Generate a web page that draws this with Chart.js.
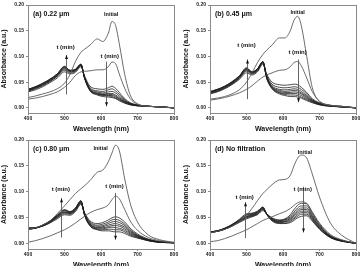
<!DOCTYPE html>
<html>
<head>
<meta charset="utf-8">
<script src="https://cdn.jsdelivr.net/npm/chart.js@4/dist/chart.umd.min.js"></script>
<style>
  html, body { margin: 0; padding: 0; background: #fff; }
  #wrap { position: relative; width: 364px; height: 266px; overflow: hidden; }
  .panel { position: absolute; width: 182px; }
</style>
</head>
<body>
<div id="wrap">
  <div class="panel" style="left:0;top:0"><canvas id="ca" width="182" height="133"></canvas></div>
  <div class="panel" style="left:182px;top:0"><canvas id="cb" width="182" height="133"></canvas></div>
  <div class="panel" style="left:0;top:133px"><canvas id="cc" width="182" height="140"></canvas></div>
  <div class="panel" style="left:182px;top:133px"><canvas id="cd" width="182" height="140"></canvas></div>
</div>
<script>
// wavelength (nm)
const wavelengths = [400,420,440,460,480,500,515,530,545,555,570,590,605,620,630,640,650,665,680,700,730,760,800];
const xTicks = [400, 500, 600, 700, 800];
const yTicks = [0, 0.05, 0.10, 0.15, 0.20];

// (a) 0.22 um
const aInitial = [0.020,0.023,0.027,0.031,0.037,0.048,0.065,0.090,0.108,0.114,0.122,0.134,0.129,0.145,0.168,0.160,0.125,0.065,0.025,0.008,0.003,0.002,0.000];
const aT1 = [0.017,0.019,0.022,0.026,0.031,0.040,0.050,0.063,0.070,0.071,0.072,0.074,0.074,0.080,0.089,0.086,0.066,0.038,0.018,0.007,0.003,0.002,0.000];
const aT2 = [0.031,0.035,0.041,0.049,0.058,0.070,0.066,0.069,0.080,0.062,0.042,0.037,0.036,0.039,0.042,0.038,0.030,0.018,0.010,0.006,0.003,0.002,0.000];
const aT3 = [0.032,0.037,0.043,0.051,0.061,0.073,0.068,0.071,0.082,0.060,0.039,0.033,0.032,0.035,0.037,0.033,0.026,0.016,0.009,0.005,0.003,0.002,0.000];
const aT4 = [0.033,0.038,0.044,0.052,0.062,0.075,0.070,0.072,0.083,0.059,0.037,0.031,0.029,0.031,0.032,0.029,0.023,0.014,0.008,0.005,0.003,0.002,0.000];
const aT5 = [0.034,0.039,0.045,0.053,0.063,0.077,0.071,0.073,0.084,0.059,0.036,0.029,0.027,0.028,0.028,0.025,0.020,0.013,0.008,0.005,0.003,0.002,0.000];
const aT6 = [0.035,0.040,0.046,0.054,0.064,0.078,0.072,0.074,0.084,0.058,0.035,0.028,0.026,0.026,0.026,0.023,0.018,0.012,0.007,0.005,0.003,0.002,0.000];
const aT7 = [0.035,0.040,0.047,0.055,0.065,0.079,0.072,0.074,0.084,0.058,0.034,0.027,0.025,0.024,0.024,0.021,0.017,0.011,0.007,0.004,0.003,0.002,0.000];
const aT8 = [0.036,0.041,0.047,0.055,0.066,0.080,0.073,0.075,0.085,0.058,0.034,0.026,0.024,0.023,0.022,0.019,0.015,0.010,0.006,0.004,0.003,0.002,0.000];
const aT9 = [0.036,0.041,0.048,0.056,0.066,0.081,0.073,0.075,0.085,0.057,0.033,0.025,0.022,0.021,0.020,0.018,0.014,0.009,0.006,0.004,0.003,0.002,0.000];

// (b) 0.45 um
const bInitial = [0.017,0.019,0.022,0.027,0.035,0.050,0.068,0.088,0.104,0.112,0.122,0.136,0.136,0.150,0.170,0.178,0.160,0.100,0.040,0.012,0.005,0.003,0.000];
const bT1 = [0.015,0.017,0.020,0.024,0.029,0.036,0.043,0.052,0.060,0.064,0.068,0.073,0.074,0.080,0.088,0.090,0.082,0.058,0.032,0.013,0.005,0.003,0.000];
const bT2 = [0.027,0.031,0.037,0.045,0.055,0.068,0.064,0.070,0.085,0.066,0.050,0.045,0.044,0.045,0.046,0.045,0.040,0.030,0.018,0.010,0.005,0.003,0.000];
const bT3 = [0.028,0.032,0.038,0.046,0.057,0.071,0.066,0.072,0.087,0.064,0.046,0.040,0.039,0.040,0.041,0.040,0.036,0.027,0.016,0.009,0.004,0.003,0.000];
const bT4 = [0.029,0.033,0.039,0.047,0.058,0.073,0.067,0.073,0.088,0.062,0.043,0.036,0.035,0.036,0.037,0.036,0.032,0.024,0.015,0.008,0.004,0.002,0.000];
const bT5 = [0.030,0.034,0.040,0.048,0.059,0.074,0.068,0.074,0.089,0.061,0.041,0.034,0.032,0.033,0.034,0.033,0.029,0.022,0.014,0.008,0.004,0.002,0.000];
const bT6 = [0.030,0.035,0.041,0.049,0.060,0.075,0.069,0.075,0.089,0.060,0.040,0.032,0.030,0.030,0.031,0.030,0.027,0.020,0.013,0.007,0.004,0.002,0.000];
const bT7 = [0.031,0.035,0.041,0.050,0.061,0.076,0.069,0.075,0.090,0.059,0.039,0.030,0.028,0.028,0.028,0.027,0.024,0.018,0.012,0.007,0.004,0.002,0.000];
const bT8 = [0.031,0.036,0.042,0.050,0.061,0.077,0.070,0.076,0.090,0.059,0.038,0.029,0.026,0.025,0.025,0.024,0.021,0.016,0.011,0.006,0.003,0.002,0.000];
const bT9 = [0.032,0.036,0.042,0.051,0.062,0.078,0.070,0.076,0.090,0.058,0.037,0.027,0.024,0.022,0.022,0.021,0.019,0.014,0.010,0.006,0.003,0.002,0.000];

// (c) 0.80 um
const cInitial = [0.028,0.031,0.036,0.044,0.058,0.073,0.085,0.097,0.106,0.112,0.122,0.138,0.142,0.158,0.175,0.190,0.180,0.125,0.078,0.042,0.017,0.008,0.003];
const cT1 = [0.003,0.006,0.010,0.015,0.021,0.027,0.033,0.040,0.048,0.053,0.060,0.066,0.069,0.075,0.085,0.092,0.087,0.066,0.044,0.026,0.012,0.006,0.002];
const cT2 = [0.031,0.031,0.034,0.040,0.048,0.056,0.055,0.062,0.076,0.060,0.044,0.039,0.041,0.046,0.050,0.052,0.050,0.042,0.030,0.019,0.009,0.004,0.002];
const cT3 = [0.030,0.031,0.034,0.041,0.050,0.058,0.057,0.064,0.078,0.059,0.042,0.036,0.038,0.042,0.046,0.047,0.045,0.038,0.027,0.017,0.008,0.004,0.002];
const cT4 = [0.030,0.031,0.035,0.042,0.051,0.060,0.058,0.065,0.079,0.058,0.040,0.034,0.035,0.039,0.042,0.043,0.041,0.035,0.025,0.016,0.008,0.004,0.002];
const cT5 = [0.029,0.030,0.035,0.042,0.052,0.061,0.059,0.066,0.080,0.057,0.038,0.032,0.033,0.036,0.038,0.039,0.037,0.032,0.023,0.015,0.007,0.004,0.002];
const cT6 = [0.029,0.030,0.035,0.043,0.053,0.062,0.060,0.067,0.081,0.056,0.037,0.031,0.031,0.033,0.035,0.035,0.034,0.029,0.021,0.014,0.007,0.003,0.002];
const cT7 = [0.029,0.030,0.036,0.043,0.054,0.064,0.061,0.068,0.082,0.056,0.036,0.029,0.029,0.031,0.032,0.031,0.030,0.026,0.019,0.013,0.006,0.003,0.002];
const cT8 = [0.028,0.030,0.036,0.044,0.055,0.065,0.062,0.069,0.083,0.055,0.035,0.028,0.027,0.028,0.028,0.027,0.027,0.023,0.017,0.012,0.006,0.003,0.002];
const cT9 = [0.028,0.030,0.036,0.044,0.055,0.066,0.062,0.069,0.083,0.055,0.034,0.027,0.025,0.025,0.024,0.023,0.023,0.020,0.015,0.011,0.006,0.003,0.002];

// (d) no filtration
const dInitial = [0.021,0.024,0.028,0.034,0.043,0.055,0.068,0.083,0.097,0.104,0.114,0.123,0.124,0.132,0.150,0.165,0.171,0.165,0.135,0.090,0.040,0.017,0.001];
const dT1 = [0.004,0.006,0.010,0.015,0.021,0.027,0.033,0.039,0.045,0.048,0.052,0.058,0.062,0.068,0.074,0.079,0.081,0.078,0.062,0.040,0.018,0.008,0.001];
const dT2 = [0.022,0.024,0.028,0.034,0.041,0.048,0.052,0.056,0.064,0.058,0.050,0.046,0.048,0.056,0.066,0.074,0.078,0.077,0.060,0.038,0.016,0.007,0.001];
const dT3 = [0.022,0.024,0.028,0.034,0.042,0.050,0.053,0.057,0.066,0.058,0.049,0.045,0.047,0.053,0.061,0.069,0.073,0.073,0.057,0.036,0.015,0.007,0.001];
const dT4 = [0.022,0.024,0.028,0.035,0.043,0.051,0.054,0.058,0.067,0.058,0.048,0.044,0.046,0.051,0.058,0.065,0.069,0.069,0.054,0.034,0.014,0.006,0.001];
const dT5 = [0.022,0.024,0.029,0.035,0.044,0.052,0.055,0.059,0.068,0.058,0.047,0.043,0.044,0.049,0.055,0.062,0.066,0.066,0.052,0.033,0.014,0.006,0.001];
const dT6 = [0.022,0.025,0.029,0.036,0.044,0.053,0.056,0.060,0.069,0.058,0.047,0.042,0.043,0.047,0.053,0.059,0.063,0.063,0.050,0.031,0.013,0.006,0.001];
const dT7 = [0.023,0.025,0.029,0.036,0.045,0.055,0.057,0.061,0.070,0.058,0.046,0.041,0.042,0.045,0.050,0.056,0.060,0.060,0.048,0.030,0.013,0.006,0.001];
const dT8 = [0.023,0.025,0.030,0.037,0.046,0.056,0.058,0.062,0.070,0.057,0.045,0.040,0.040,0.043,0.048,0.053,0.057,0.057,0.046,0.029,0.012,0.005,0.001];
const dT9 = [0.023,0.025,0.030,0.037,0.047,0.058,0.059,0.063,0.071,0.057,0.044,0.039,0.039,0.041,0.045,0.050,0.053,0.054,0.044,0.028,0.012,0.005,0.001];

const FONT = "'Liberation Sans', Arial, sans-serif";

// arrows / labels are in data units (nm, a.u.)
const panels = [
  { id: "ca", label: "(a) 0.22 \u03bcm", top: 5, bottom: 0, xh: 20,
    curves: [aInitial, aT1, aT2, aT3, aT4, aT5, aT6, aT7, aT8, aT9],
    initial: [628, 0.182],
    arrows: [{ wl: 503, from: 0.026, to: 0.103, lx: 503, ly: 0.117 },
             { wl: 614, from: 0.090, to: 0.003, lx: 624, ly: 0.100 }] },
  { id: "cb", label: "(b) 0.45 \u03bcm", top: 5, bottom: 0, xh: 20,
    curves: [bInitial, bT1, bT2, bT3, bT4, bT5, bT6, bT7, bT8, bT9],
    initial: [640, 0.186],
    arrows: [{ wl: 500, from: 0.017, to: 0.094, lx: 500, ly: 0.122 },
             { wl: 640, from: 0.094, to: 0.011, lx: 640, ly: 0.108 }] },
  { id: "cc", label: "(c) 0.80 \u03bcm", top: 7, bottom: 4, xh: 20,
    curves: [cInitial, cT1, cT2, cT3, cT4, cT5, cT6, cT7, cT8, cT9],
    initial: [599, 0.183],
    arrows: [{ wl: 490, from: 0.012, to: 0.088, lx: 490, ly: 0.104 },
             { wl: 639, from: 0.098, to: 0.008, lx: 637, ly: 0.111 }] },
  { id: "cd", label: "(d) No filtration", top: 7, bottom: 4, xh: 20,
    curves: [dInitial, dT1, dT2, dT3, dT4, dT5, dT6, dT7, dT8, dT9],
    initial: [660, 0.175],
    arrows: [{ wl: 497, from: 0.011, to: 0.080, lx: 495, ly: 0.090 },
             { wl: 654, from: 0.110, to: 0.022, lx: 654, ly: 0.104 }] }
];

const decor = {
  id: "decor",
  afterDatasetsDraw(chart, args, opts) {
    const { ctx, chartArea: a, scales: { x, y } } = chart;
    ctx.save();
    ctx.strokeStyle = "#8a8a8a";
    ctx.lineWidth = 1;
    ctx.strokeRect(a.left + 0.5, a.top + 0.5, a.right - a.left, a.bottom - a.top);

    ctx.fillStyle = "#111";
    ctx.textBaseline = "middle";
    opts.arrows.forEach(ar => {
      const px = Math.round(x.getPixelForValue(ar.wl)) + 0.5;
      const y1 = y.getPixelForValue(ar.from), y2 = y.getPixelForValue(ar.to);
      ctx.strokeStyle = "#555";
      ctx.lineWidth = 0.9;
      ctx.beginPath(); ctx.moveTo(px, y1); ctx.lineTo(px, y2); ctx.stroke();
      const d = y2 < y1 ? 1 : -1;
      ctx.beginPath();
      ctx.moveTo(px, y2); ctx.lineTo(px - 1.5, y2 + d * 4); ctx.lineTo(px + 1.5, y2 + d * 4);
      ctx.closePath(); ctx.fill();
      ctx.font = "bold 6px " + FONT;
      ctx.textAlign = "center";
      ctx.fillText("t (min)", x.getPixelForValue(ar.lx), y.getPixelForValue(ar.ly));
    });
    ctx.font = "bold 5.5px " + FONT;
    ctx.textAlign = "center";
    ctx.fillText("Initial", x.getPixelForValue(opts.initial[0]), y.getPixelForValue(opts.initial[1]));
    ctx.font = "bold 7px " + FONT;
    ctx.textAlign = "left";
    ctx.fillText(opts.label, a.left + 5, a.top + 9);
    ctx.restore();
  }
};

panels.forEach(p => {
  const datasets = p.curves.map((c, i) => ({
    data: wavelengths.map((w, j) => ({ x: w, y: c[j] })),
    borderColor: i < 2 ? "#5a5a5a" : "#1e1e1e",
    borderWidth: i < 2 ? 0.9 : 0.8,
    pointRadius: 0,
    cubicInterpolationMode: "monotone",
    fill: false
  }));

  new Chart(document.getElementById(p.id), {
    type: "line",
    data: { datasets },
    options: {
      responsive: false,
      animation: false,
      layout: { padding: { top: p.top, right: 8, left: 0, bottom: p.bottom } },
      plugins: {
        legend: { display: false },
        tooltip: { enabled: false },
        decor: { arrows: p.arrows, initial: p.initial, label: p.label }
      },
      scales: {
        x: {
          type: "linear", min: 400, max: 800,
          afterBuildTicks: s => { s.ticks = xTicks.map(v => ({ value: v })); },
          afterFit: s => { s.height = p.xh; },
          grid: { drawOnChartArea: false, tickLength: 2, color: "#888" },
          border: { color: "#888" },
          ticks: { font: { size: 5, weight: "bold", family: FONT }, color: "#222", padding: 1, maxRotation: 0 },
          title: { display: true, text: "Wavelength (nm)", font: { size: 7, weight: "bold", family: FONT }, color: "#111", padding: { top: 1, bottom: 0 } }
        },
        y: {
          min: -0.01, max: 0.20,
          afterBuildTicks: s => { s.ticks = yTicks.map(v => ({ value: v })); },
          afterFit: s => { s.width = 28; },
          grid: { drawOnChartArea: false, tickLength: 2, color: "#888" },
          border: { color: "#888" },
          ticks: { font: { size: 5, weight: "bold", family: FONT }, color: "#222", padding: 2, callback: v => v.toFixed(2) },
          title: { display: true, text: "Absorbance (a.u.)", font: { size: 7, weight: "bold", family: FONT }, color: "#111", padding: { top: 0, bottom: 1 } }
        }
      }
    },
    plugins: [decor]
  });
});
</script>
</body>
</html>
